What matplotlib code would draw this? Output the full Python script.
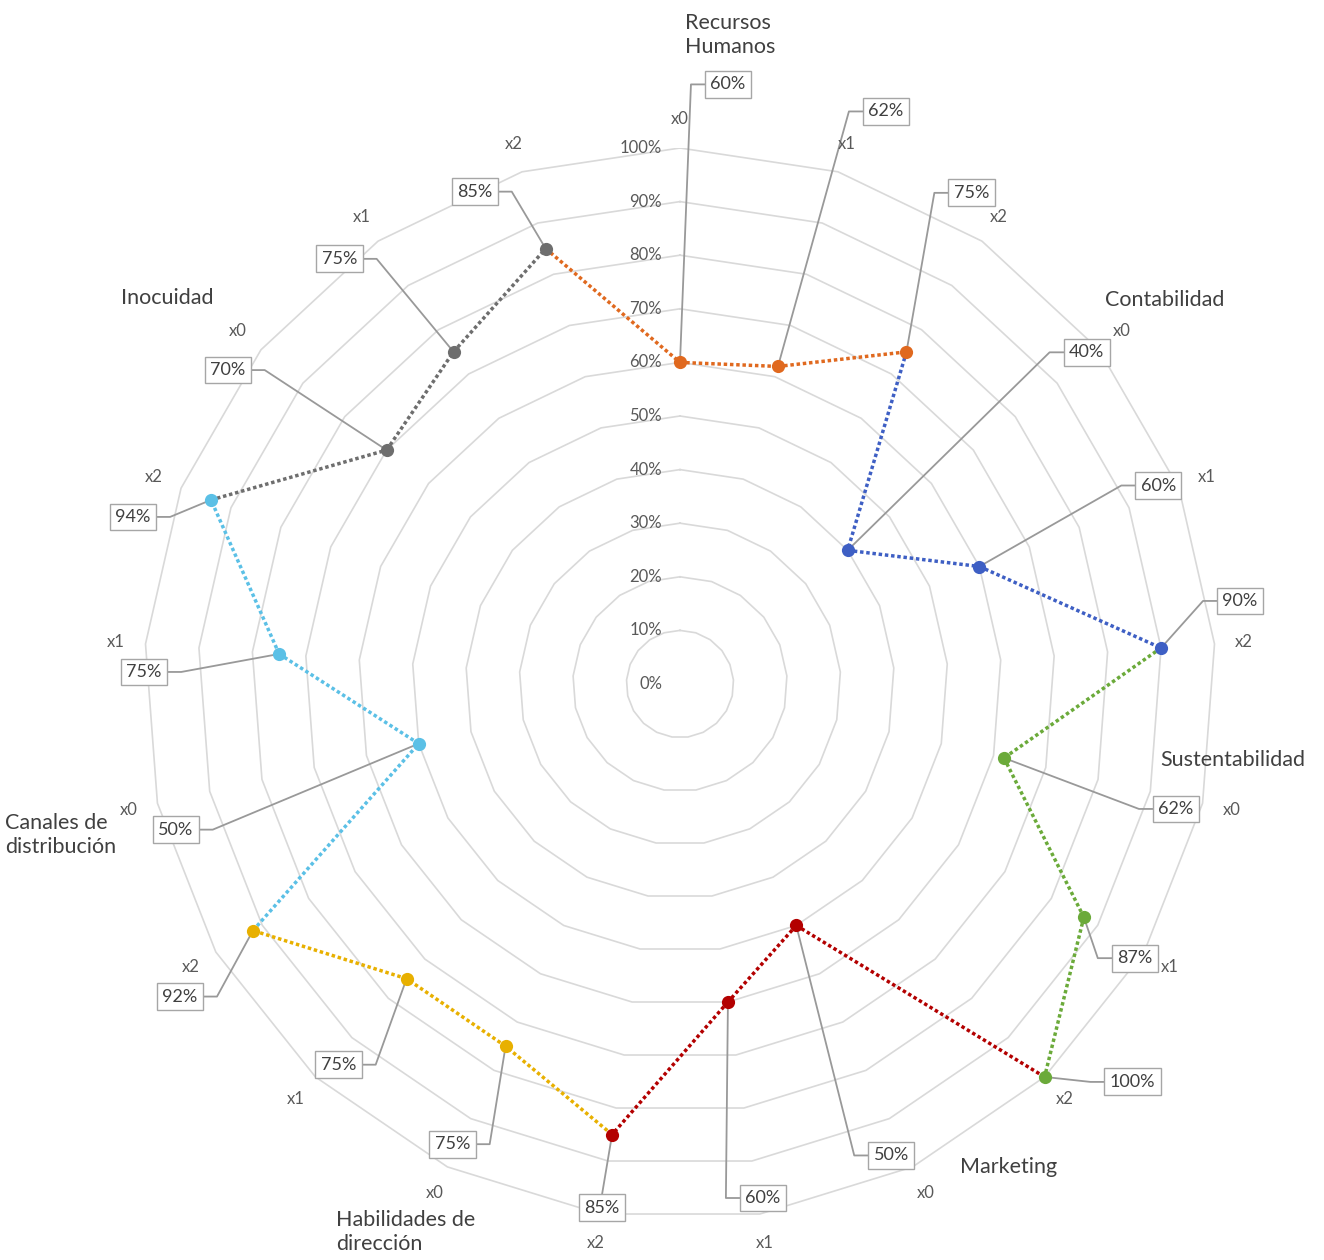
import numpy as np
import matplotlib
matplotlib.use("Agg")
import matplotlib.pyplot as plt
from matplotlib.lines import Line2D
from matplotlib.transforms import IdentityTransform

plt.rcParams['font.family'] = ['Lato', 'DejaVu Sans']

# ---------------- data ----------------
categories = ["Recursos\nHumanos", "Contabilidad", "Sustentabilidad", "Marketing",
              "Habilidades de\ndirección", "Canales de\ndistribución", "Inocuidad"]
sub_labels = ["x0", "x1", "x2"]
rh = [60, 62, 75]
contabilidad = [40, 60, 90]
sustentabilidad = [62, 87, 100]
marketing = [50, 60, 85]
habilidades = [75, 75, 92]
canales = [50, 75, 94]
inocuidad = [70, 75, 85]
tick_values = [0, 10, 20, 30, 40, 50, 60, 70, 80, 90, 100]
tick_labels = [f"{t}%" for t in tick_values]

series = [rh, contabilidad, sustentabilidad, marketing, habilidades, canales, inocuidad]

# ---------------- styles / layout ----------------
colors = ['#E0691F', '#3E5FC4', '#6BAA3A', '#B30000', '#E8B000', '#5BC0E6', '#6E6E6E']
# category label placement (angle deg clockwise from top, radius)
cat_pos = [(4.4, 1.215), (51.6, 1.154), (97.8, 1.041), (145.8, 1.089),
           (206.6, 1.144), (256.3, 1.19), (307.0, 1.198)]
# data label box offsets in pixels (dx right, dy up)
label_offsets = [(48, 278), (108, 255), (65, 159),
                 (239, 198), (179, 81), (79, 47),
                 (172, -51), (51, -41), (88, -5),
                 (95, -230), (35, -196), (-10, -73),
                 (-53, -98), (-68, -86), (-73, -66),
                 (-243, -86), (-135, -18), (-78, -17),
                 (-159, 80), (-114, 93), (-71, 57)]

values = [v for s in series for v in s]
point_colors = [c for c in colors for _ in range(3)]
n = len(values)
theta = 2 * np.pi * np.arange(n) / n

def xy(t, r):
    return r * np.sin(t), r * np.cos(t)

W, H = 1324, 1260
R = 536
cx, cy = 680, 684
fig = plt.figure(figsize=(W / 100, H / 100), dpi=100)
fig.patch.set_facecolor('white')
ax = fig.add_axes([(cx - R) / W, (H - cy - R) / H, 2 * R / W, 2 * R / H])
ax.set_xlim(-1, 1)
ax.set_ylim(-1, 1)
ax.axis('off')

# grid polygons
tt = np.append(theta, theta[0])
for tv in tick_values[1:]:
    gx, gy = xy(tt, tv / 100)
    ax.plot(gx, gy, color='#d9d9d9', lw=1.2, zorder=1)

# radial tick labels
for tv, tl in zip(tick_values, tick_labels):
    ax.annotate(tl, xy=(0, tv / 100), xytext=(-18, 0), textcoords='offset pixels',
                ha='right', va='center', fontsize=12, color='#595959', zorder=6)

# sub axis labels
for i in range(n):
    lx, ly = xy(theta[i], 1.055)
    ax.text(lx, ly, sub_labels[i % 3], ha='center', va='center', fontsize=12,
            color='#595959', clip_on=False)

# category labels
for name, (ang, rr) in zip(categories, cat_pos):
    lx, ly = xy(np.deg2rad(ang), rr)
    ax.text(lx, ly, name, ha='center', va='center', fontsize=15.5, color='#404040',
            multialignment='left', linespacing=1.25, clip_on=False)

# series segments (colored by destination point)
px, py = xy(theta, np.array(values) / 100)
for i in range(n):
    j = i - 1
    ax.plot([px[j], px[i]], [py[j], py[i]], color=point_colors[i], lw=2.5,
            linestyle=(0, (1, 0.8)), zorder=3)
for i in range(n):
    ax.plot(px[i], py[i], 'o', color=point_colors[i], markersize=9.5, zorder=4,
            markeredgewidth=0)

# data labels
anns = []
for i in range(n):
    a = ax.annotate(f"{values[i]}%", xy=(px[i], py[i]), xytext=label_offsets[i],
                    textcoords='offset pixels', ha='center', va='center',
                    fontsize=13, color='#404040', zorder=6,
                    bbox=dict(boxstyle='square,pad=0.3', fc='white', ec='#a6a6a6', lw=1.0),
                    annotation_clip=False)
    anns.append(a)

fig.canvas.draw()
renderer = fig.canvas.get_renderer()
for i, a in enumerate(anns):
    bb = a.get_bbox_patch().get_window_extent(renderer)
    p = ax.transData.transform((px[i], py[i]))
    mx = (bb.x0 + bb.x1) / 2
    my = (bb.y0 + bb.y1) / 2
    if p[0] < bb.x0 - 2:
        xs = [p[0], bb.x0 - 14, bb.x0]
        ys = [p[1], my, my]
    elif p[0] > bb.x1 + 2:
        xs = [p[0], bb.x1 + 14, bb.x1]
        ys = [p[1], my, my]
    else:
        edge = bb.y1 if p[1] > bb.y1 else bb.y0
        xs = [p[0], mx]
        ys = [p[1], edge]
    ln = Line2D(xs, ys, transform=IdentityTransform(), color='#999999', lw=1.3,
                zorder=2.5, clip_on=False)
    ax.add_line(ln)

fig.savefig('out.png', dpi=100, facecolor='white')
